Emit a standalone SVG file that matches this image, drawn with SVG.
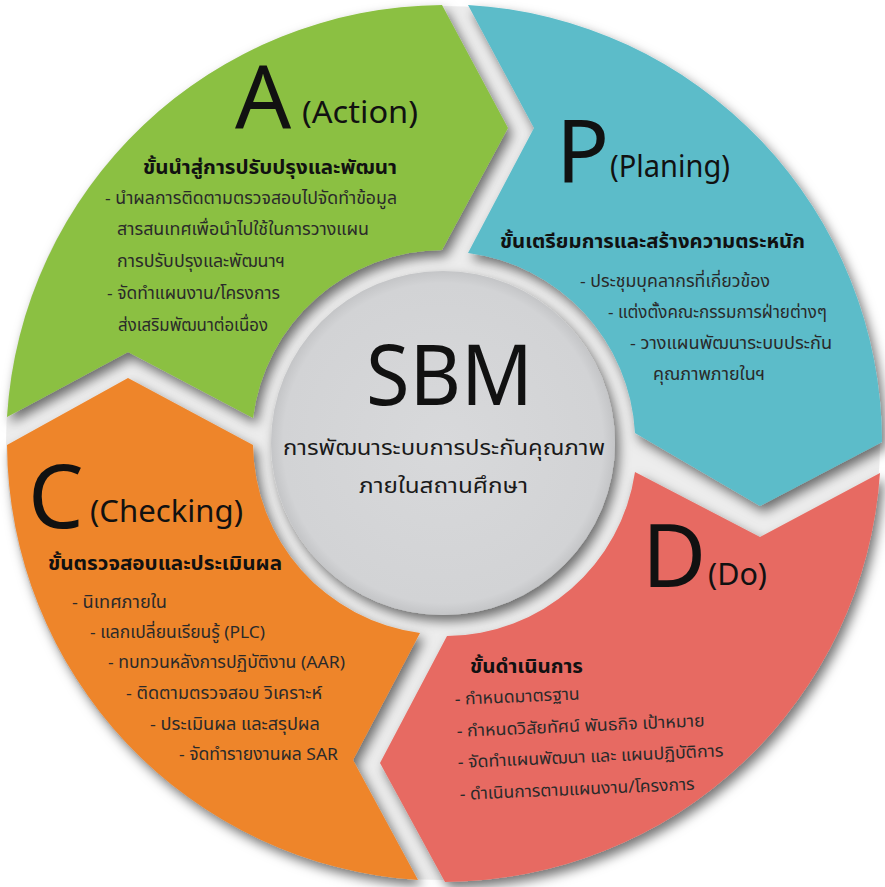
<svg xmlns="http://www.w3.org/2000/svg" width="885" height="887" viewBox="0 0 885 887">
<style>
.big{font-family:"Noto Sans","Open Sans","DejaVu Sans",sans-serif;font-size:88px;fill:#111}
.par{font-family:"Noto Sans","Open Sans","DejaVu Sans",sans-serif;font-size:31px;fill:#111}
.hd{font-family:"Noto Sans Thai","Noto Sans Thai UI","Tlwg Typo","Garuda","Loma","Noto Sans","DejaVu Sans",sans-serif;font-size:19px;font-weight:bold;fill:#111}
.bd{font-family:"Noto Sans Thai","Noto Sans Thai UI","Tlwg Typo","Garuda","Loma","Noto Sans","DejaVu Sans",sans-serif;font-size:17px;fill:#2a2a2a}
.ct{font-family:"Noto Sans Thai","Noto Sans Thai UI","Tlwg Typo","Garuda","Loma","Noto Sans","DejaVu Sans",sans-serif;font-size:21px;fill:#1a1a1a}
.sbm{font-family:"Noto Sans","Open Sans","DejaVu Sans",sans-serif;font-size:84px;fill:#111}
</style>
<defs>
<filter id="sh" x="-10%" y="-10%" width="125%" height="125%">
<feDropShadow dx="4" dy="6" stdDeviation="6" flood-color="#000" flood-opacity="0.55"/>
</filter>
<radialGradient id="cg" cx="0.5" cy="0.5" r="0.5">
<stop offset="0" stop-color="#d8d9db"/>
<stop offset="0.93" stop-color="#d2d3d5"/>
<stop offset="1" stop-color="#c4c5c7"/>
</radialGradient>
</defs>
<rect width="885" height="887" fill="#ffffff"/>
<circle cx="443" cy="443" r="437" fill="#ededed"/>
<g id="connectors"></g>
<g id="node-A">
<path filter="url(#sh)" fill="#8bc043" d="M 7,417 A 439 439 0 0 1 442,5 L 508,128 L 442,250 A 192 192 0 0 0 253,418 L 128,352 Z"/>
<text class="big" x="235" y="128">A</text>
<text class="par" x="302" y="123" textLength="116" lengthAdjust="spacingAndGlyphs">(Action)</text>
<text class="hd" x="143" y="174" textLength="254" lengthAdjust="spacingAndGlyphs">ขั้นนำสู่การปรับปรุงและพัฒนา</text>
<text class="bd" x="105" y="204" textLength="292" lengthAdjust="spacingAndGlyphs">- นำผลการติดตามตรวจสอบไปจัดทำข้อมูล</text>
<text class="bd" x="117" y="235" textLength="252" lengthAdjust="spacingAndGlyphs">สารสนเทศเพื่อนำไปใช้ในการวางแผน</text>
<text class="bd" x="117" y="267" textLength="168" lengthAdjust="spacingAndGlyphs">การปรับปรุงและพัฒนาฯ</text>
<text class="bd" x="107" y="299" textLength="173" lengthAdjust="spacingAndGlyphs">- จัดทำแผนงาน/โครงการ</text>
<text class="bd" x="118" y="331" textLength="150" lengthAdjust="spacingAndGlyphs">ส่งเสริมพัฒนาต่อเนื่อง</text>
</g>
<g id="node-P">
<path filter="url(#sh)" fill="#5bbcc9" d="M 468,5 A 439 439 0 0 1 882,442 L 760,506 L 635,433 A 192 192 0 0 0 468,253 L 534,128 Z"/>
<text class="big" x="556" y="182">P</text>
<text class="par" x="610" y="177" textLength="120" lengthAdjust="spacingAndGlyphs">(Planing)</text>
<text class="hd" x="500" y="248" textLength="305" lengthAdjust="spacingAndGlyphs">ขั้นเตรียมการและสร้างความตระหนัก</text>
<text class="bd" x="580" y="287" textLength="190" lengthAdjust="spacingAndGlyphs">- ประชุมบุคลากรที่เกี่ยวข้อง</text>
<text class="bd" x="608" y="318" textLength="219" lengthAdjust="spacingAndGlyphs">- แต่งตั้งคณะกรรมการฝ่ายต่างๆ</text>
<text class="bd" x="630" y="349" textLength="202" lengthAdjust="spacingAndGlyphs">- วางแผนพัฒนาระบบประกัน</text>
<text class="bd" x="653" y="380" textLength="112" lengthAdjust="spacingAndGlyphs">คุณภาพภายในฯ</text>
</g>
<g id="node-D">
<path filter="url(#sh)" fill="#e76b62" d="M 635,472 L 760,537 L 880,473 A 439 439 0 0 1 445,882 L 380,763 L 447,636 A 192 192 0 0 0 635,472 Z"/>
<text class="big" x="642" y="587">D</text>
<text class="par" x="708" y="585" textLength="59" lengthAdjust="spacingAndGlyphs">(Do)</text>
<text class="hd" x="470" y="673" textLength="113" lengthAdjust="spacingAndGlyphs">ขั้นดำเนินการ</text>
<text class="bd" x="455" y="705" transform="rotate(-2.5 455 705)" textLength="125" lengthAdjust="spacingAndGlyphs">- กำหนดมาตรฐาน</text>
<text class="bd" x="457" y="737" transform="rotate(-2.5 457 737)" textLength="248" lengthAdjust="spacingAndGlyphs">- กำหนดวิสัยทัศน์ พันธกิจ เป้าหมาย</text>
<text class="bd" x="458" y="768" transform="rotate(-2.5 458 768)" textLength="266" lengthAdjust="spacingAndGlyphs">- จัดทำแผนพัฒนา และ แผนปฏิบัติการ</text>
<text class="bd" x="460" y="800" transform="rotate(-2.5 460 800)" textLength="235" lengthAdjust="spacingAndGlyphs">- ดำเนินการตามแผนงาน/โครงการ</text>
</g>
<g id="node-C">
<path filter="url(#sh)" fill="#ee852b" d="M 420,633 L 353,760 L 418,880 A 439 439 0 0 1 7,445 L 128,378 L 253,445 A 192 192 0 0 0 420,633 Z"/>
<text class="big" x="28" y="528">C</text>
<text class="par" x="90" y="522" textLength="153" lengthAdjust="spacingAndGlyphs">(Checking)</text>
<text class="hd" x="48" y="570" textLength="234" lengthAdjust="spacingAndGlyphs">ขั้นตรวจสอบและประเมินผล</text>
<text class="bd" x="72" y="608" textLength="95" lengthAdjust="spacingAndGlyphs">- นิเทศภายใน</text>
<text class="bd" x="90" y="638" textLength="175" lengthAdjust="spacingAndGlyphs">- แลกเปลี่ยนเรียนรู้ (PLC)</text>
<text class="bd" x="108" y="668" textLength="237" lengthAdjust="spacingAndGlyphs">- ทบทวนหลังการปฏิบัติงาน (AAR)</text>
<text class="bd" x="126" y="699" textLength="196" lengthAdjust="spacingAndGlyphs">- ติดตามตรวจสอบ วิเคราะห์</text>
<text class="bd" x="150" y="730" textLength="170" lengthAdjust="spacingAndGlyphs">- ประเมินผล และสรุปผล</text>
<text class="bd" x="179" y="760" textLength="159" lengthAdjust="spacingAndGlyphs">- จัดทำรายงานผล SAR</text>
</g>
<g id="node-SBM">
<circle cx="443" cy="443" r="172" fill="url(#cg)" filter="url(#sh)"/>
<text class="sbm" x="366" y="405" textLength="167" lengthAdjust="spacingAndGlyphs">SBM</text>
<text class="ct" x="283" y="455" textLength="322" lengthAdjust="spacingAndGlyphs">การพัฒนาระบบการประกันคุณภาพ</text>
<text class="ct" x="359" y="493" textLength="169" lengthAdjust="spacingAndGlyphs">ภายในสถานศึกษา</text>
</g>
</svg>
